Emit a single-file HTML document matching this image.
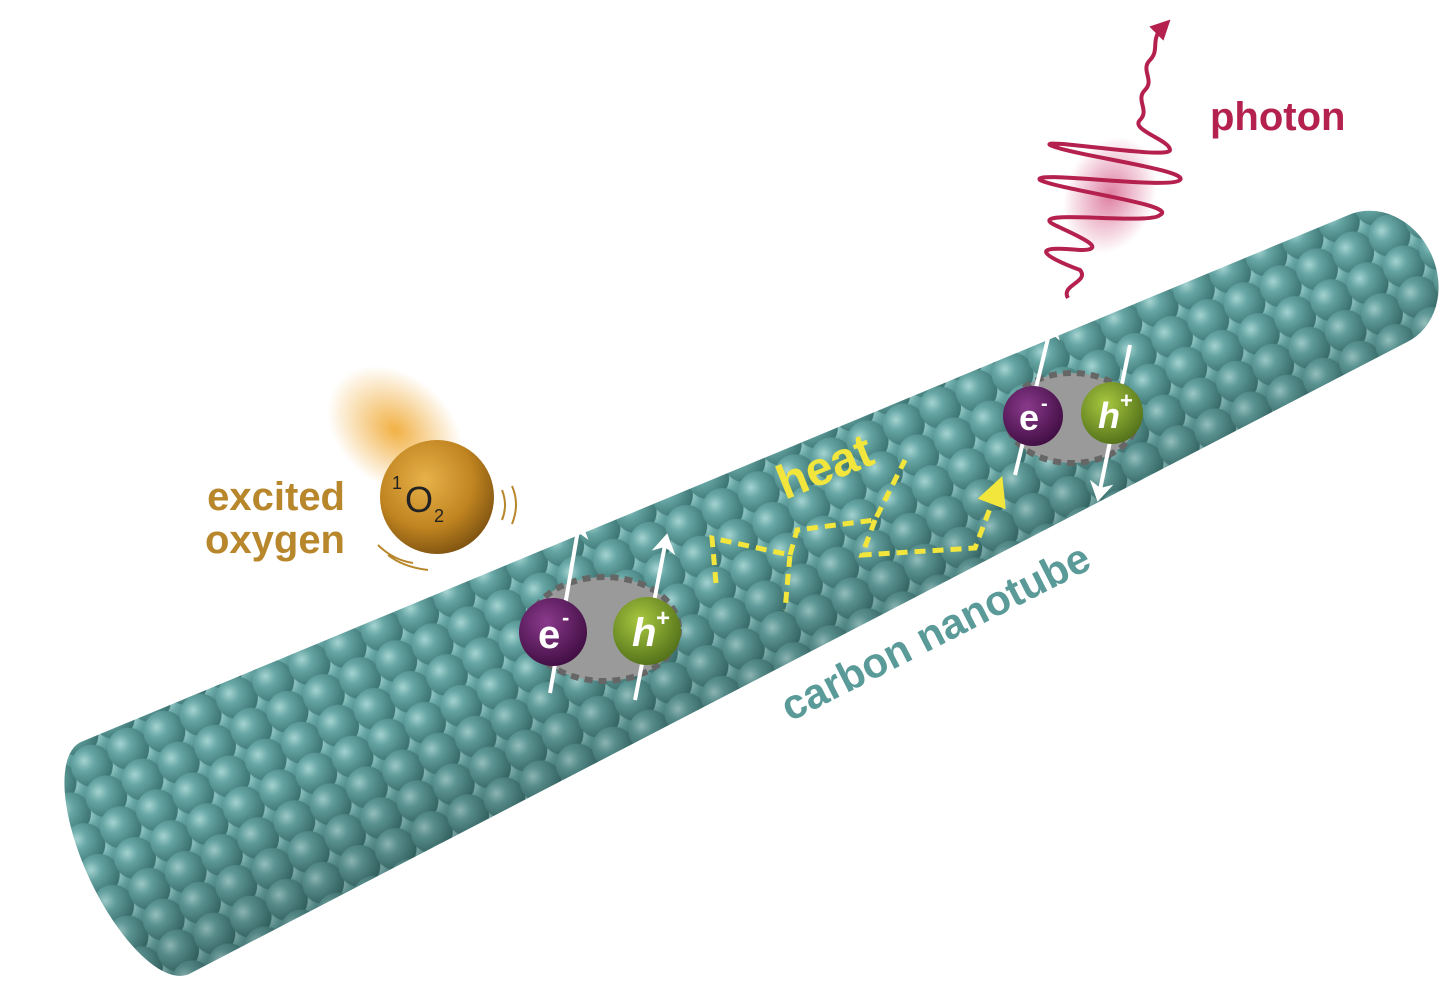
<!DOCTYPE html>
<html><head><meta charset="utf-8"><style>
html,body{margin:0;padding:0;background:#fff;}
svg{display:block;}
text{font-family:"Liberation Sans",Arial,sans-serif;font-weight:bold;}
</style></head><body>
<svg width="1440" height="989" viewBox="0 0 1440 989" xmlns="http://www.w3.org/2000/svg">
<defs>
<radialGradient id="atom" cx="0.38" cy="0.32" r="0.7">
<stop offset="0" stop-color="#a5d4d2"/><stop offset="0.35" stop-color="#66a6a4"/><stop offset="1" stop-color="#3c7472"/>
</radialGradient>
<pattern id="pat" width="40" height="34" patternUnits="userSpaceOnUse">
<circle cx="20" cy="17" r="21" fill="url(#atom)"/>
<circle cx="0" cy="0" r="21" fill="url(#atom)"/>
<circle cx="40" cy="0" r="21" fill="url(#atom)"/>
<circle cx="0" cy="34" r="21" fill="url(#atom)"/>
<circle cx="40" cy="34" r="21" fill="url(#atom)"/>
</pattern>
<linearGradient id="shade" x1="0" y1="0" x2="0" y2="1">
<stop offset="0" stop-color="#000" stop-opacity="0"/><stop offset="0.45" stop-color="#000" stop-opacity="0"/><stop offset="1" stop-color="#000" stop-opacity="0.2"/>
</linearGradient>
<radialGradient id="gold" cx="0.4" cy="0.35" r="0.7">
<stop offset="0" stop-color="#e8b24a"/><stop offset="0.6" stop-color="#c08420"/><stop offset="1" stop-color="#7a5010"/>
</radialGradient>
<radialGradient id="glow" cx="0.5" cy="0.5" r="0.5">
<stop offset="0" stop-color="#f0a830" stop-opacity="0.9"/><stop offset="1" stop-color="#f0a830" stop-opacity="0"/>
</radialGradient>
<radialGradient id="purp" cx="0.4" cy="0.35" r="0.7">
<stop offset="0" stop-color="#8a3a8c"/><stop offset="1" stop-color="#3e0c40"/>
</radialGradient>
<radialGradient id="grn" cx="0.4" cy="0.35" r="0.7">
<stop offset="0" stop-color="#a8c840"/><stop offset="1" stop-color="#506e18"/>
</radialGradient>
<radialGradient id="pglow" cx="0.5" cy="0.5" r="0.5">
<stop offset="0" stop-color="#d0487a" stop-opacity="0.7"/><stop offset="1" stop-color="#d0487a" stop-opacity="0"/>
</radialGradient>
<marker id="ya" markerWidth="6" markerHeight="6" refX="3" refY="3" orient="auto"><path d="M0,0 L6,3 L0,6 z" fill="#f2e63c"/></marker>
<marker id="wa" markerWidth="5" markerHeight="6" refX="2" refY="3" orient="auto"><path d="M0,0 L5,3 L0,6 L1.5,3 z" fill="#fff"/></marker>
<marker id="pa" markerWidth="5" markerHeight="5" refX="2" refY="2.5" orient="auto"><path d="M0,0 L5,2.5 L0,5 z" fill="#b5214f"/></marker>
</defs>

<ellipse cx="395" cy="430" rx="75" ry="55" fill="url(#glow)" transform="rotate(40 395 430)"/>

<g transform="translate(135,858) rotate(-25)">
<path d="M0,-128 L1370,-70 A60,70 0 0 1 1370,70 L0,128 A50,128 0 0 1 0,-128 z" fill="url(#pat)"/>
<path d="M0,-128 L1370,-70 A60,70 0 0 1 1370,70 L0,128 A50,128 0 0 1 0,-128 z" fill="url(#shade)"/>
</g>

<circle cx="437" cy="497" r="57" fill="url(#gold)"/>
<text x="405" y="512" font-size="36" fill="#222" style="font-weight:normal">O</text>
<text x="392" y="489" font-size="18" fill="#222" style="font-weight:normal">1</text>
<text x="434" y="522" font-size="18" fill="#222" style="font-weight:normal">2</text>
<path d="M502,490 q6,15 0,30 M512,486 q8,18 0,38" stroke="#b8862b" stroke-width="2" fill="none"/>
<path d="M378,545 q15,15 35,18 M388,555 q15,12 40,15" stroke="#b8862b" stroke-width="2" fill="none"/>
<text x="345" y="510" font-size="40" fill="#b8862b" text-anchor="end">excited</text>
<text x="345" y="553" font-size="40" fill="#b8862b" text-anchor="end">oxygen</text>

<ellipse cx="604" cy="629" rx="75" ry="52" fill="#9a9a9a" stroke="#666" stroke-width="6" stroke-dasharray="8,6"/>
<line x1="550" y1="693" x2="578" y2="530" stroke="#fff" stroke-width="4" marker-end="url(#wa)"/>
<line x1="635" y1="700" x2="665" y2="545" stroke="#fff" stroke-width="4" marker-end="url(#wa)"/>
<circle cx="553" cy="632" r="34" fill="url(#purp)"/>
<circle cx="647" cy="631" r="34" fill="url(#grn)"/>
<text x="538" y="648" font-size="40" fill="#fff">e</text><text x="562" y="625" font-size="22" fill="#fff">-</text>
<text x="632" y="646" font-size="40" fill="#fff" font-style="italic">h</text><text x="656" y="626" font-size="24" fill="#fff">+</text>

<ellipse cx="1072" cy="418" rx="65" ry="45" fill="#9a9a9a" stroke="#666" stroke-width="6" stroke-dasharray="8,6"/>
<line x1="1015" y1="475" x2="1050" y2="330" stroke="#fff" stroke-width="4" marker-end="url(#wa)"/>
<line x1="1130" y1="345" x2="1100" y2="490" stroke="#fff" stroke-width="4" marker-end="url(#wa)"/>
<circle cx="1033" cy="416" r="30" fill="url(#purp)"/>
<circle cx="1112" cy="413" r="31" fill="url(#grn)"/>
<text x="1019" y="430" font-size="36" fill="#fff">e</text><text x="1041" y="410" font-size="20" fill="#fff">-</text>
<text x="1098" y="428" font-size="36" fill="#fff" font-style="italic">h</text><text x="1120" y="408" font-size="22" fill="#fff">+</text>

<g stroke="#f2e63c" stroke-width="5" fill="none" stroke-dasharray="11,7">
<path d="M716,583 L712,538 L790,555 L785,610"/>
<path d="M790,555 L797,530 L875,520 L905,460"/>
<path d="M875,520 L862,555 L975,548 L997,490" marker-end="url(#ya)"/>
</g>
<text x="785" y="500" font-size="48" fill="#f2e63c" transform="rotate(-22 785 500)">heat</text>

<text x="790" y="722" font-size="42" fill="#5a9a98" transform="rotate(-27 790 722)">carbon nanotube</text>

<ellipse cx="1110" cy="195" rx="60" ry="45" fill="url(#pglow)" transform="rotate(-70 1110 195)"/>
<path d="M1068,298 C1060,285 1090,282 1080,270 C1040,255 1030,245 1080,250 C1120,250 1050,225 1050,222 C1040,210 1150,225 1160,215 C1180,205 1060,190 1040,180 C1030,170 1170,190 1180,180 C1190,170 1070,155 1050,145 C1040,138 1170,160 1170,150 C1170,140 1130,130 1140,120 C1150,110 1135,100 1145,90 C1155,80 1140,70 1150,60 C1160,50 1150,40 1162,28" stroke="#b5214f" stroke-width="4" fill="none" marker-end="url(#pa)"/>
<text x="1210" y="130" font-size="40" fill="#b5214f">photon</text>
</svg>
</body></html>
